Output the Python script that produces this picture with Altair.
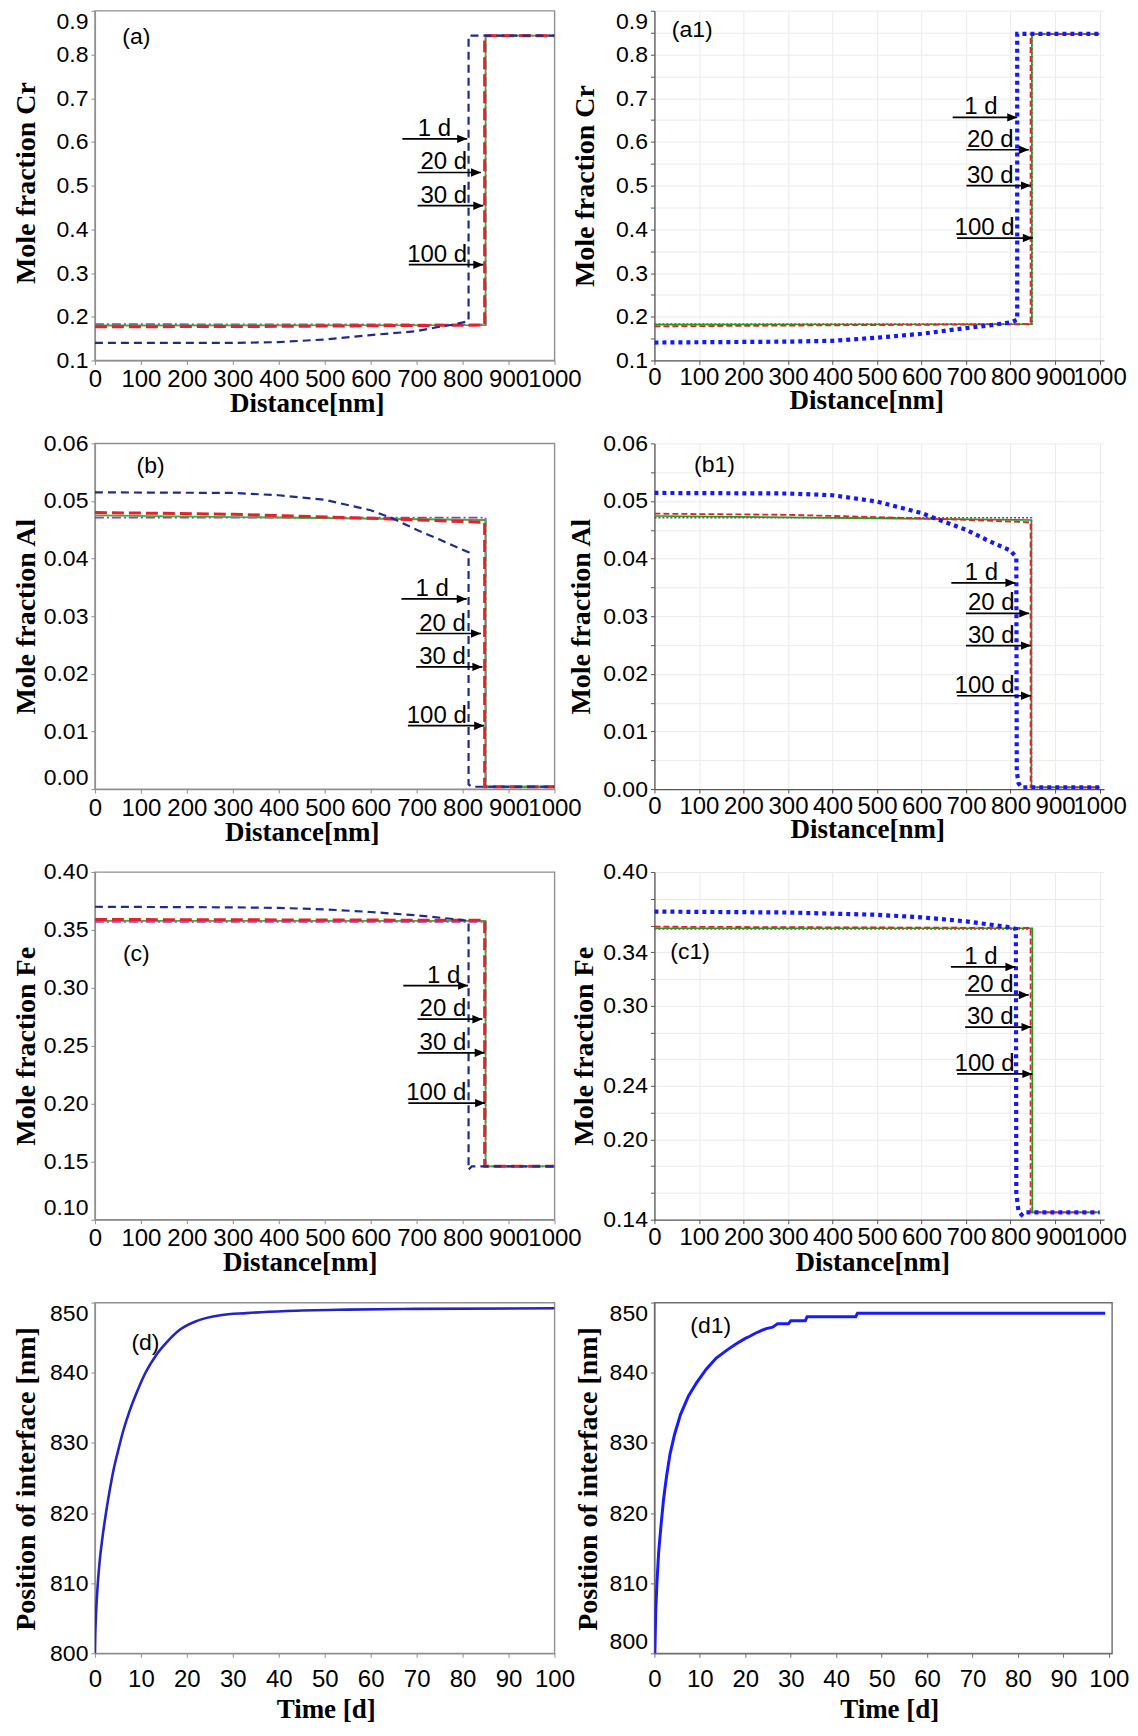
import altair as alt
import pandas as pd

DAYS = ["1 d", "20 d", "30 d", "100 d"]

# ---------------- (a) Mole fraction Cr, left ----------------
CR_L_1D_X = [0, 200, 300, 400, 500, 600, 700, 750, 780, 813, 813, 1000]
CR_L_1D_Y = [0.140, 0.140, 0.140, 0.142, 0.148, 0.158, 0.167, 0.177, 0.182, 0.190, 0.843, 0.843]
CR_L_20D_X = [0, 400, 848, 848, 1000]
CR_L_20D_Y = [0.177, 0.178, 0.181, 0.843, 0.843]
CR_L_30D_X = [0, 850, 850, 1000]
CR_L_30D_Y = [0.180, 0.181, 0.843, 0.843]
CR_L_100D_X = [0, 850, 850, 1000]
CR_L_100D_Y = [0.183, 0.182, 0.843, 0.843]
ARR_A_X1 = [669, 702, 702, 683]
ARR_A_X2 = [810, 840, 845, 845]
ARR_A_Y = [0.607, 0.530, 0.454, 0.319]
ARR_A_TX = [775, 810, 810, 810]

# ---------------- (a1) Mole fraction Cr, right ----------------
CR_R_1D_X = [0, 300, 400, 500, 600, 700, 750, 800, 815, 815, 1000]
CR_R_1D_Y = [0.141, 0.143, 0.145, 0.152, 0.161, 0.174, 0.180, 0.187, 0.193, 0.847, 0.847]
CR_R_20D_X = [0, 845, 845, 1000]
CR_R_20D_Y = [0.178, 0.183, 0.847, 0.847]
CR_R_30D_X = [0, 848, 848, 1000]
CR_R_30D_Y = [0.182, 0.183, 0.847, 0.847]
CR_R_100D_X = [0, 848, 848, 1000]
CR_R_100D_Y = [0.183, 0.183, 0.847, 0.847]
ARR_A1_X1 = [670, 701, 701, 680]
ARR_A1_X2 = [815, 841, 846, 850]
ARR_A1_Y = [0.656, 0.582, 0.500, 0.380]
ARR_A1_TX = [771, 807, 807, 809]

# ---------------- (b) Mole fraction Al, left ----------------
AL_L_1D_X = [0, 300, 400, 500, 600, 650, 700, 750, 813, 813, 820, 1000]
AL_L_1D_Y = [0.0515, 0.0514, 0.0510, 0.0502, 0.0484, 0.0469, 0.0450, 0.0433, 0.0411, 0.0008, 0.0004, 0.0004]
AL_L_20D_X = [0, 300, 600, 848, 848, 1000]
AL_L_20D_Y = [0.0480, 0.0477, 0.0470, 0.0463, 0.0004, 0.0004]
AL_L_30D_X = [0, 850, 850, 1000]
AL_L_30D_Y = [0.0475, 0.0467, 0.0004, 0.0004]
AL_L_100D_X = [0, 850, 850, 1000]
AL_L_100D_Y = [0.0471, 0.0471, 0.0004, 0.0004]
ARR_B_X1 = [667, 699, 699, 681]
ARR_B_X2 = [809, 840, 843, 847]
ARR_B_Y = [0.033, 0.027, 0.0212, 0.011]
ARR_B_TX = [770, 807, 807, 809]

# ---------------- (b1) Mole fraction Al, right ----------------
AL_R_1D_X = [0, 300, 400, 500, 600, 630, 700, 750, 800, 813, 814, 818, 825, 1000]
AL_R_1D_Y = [0.0514, 0.0513, 0.0510, 0.0499, 0.0479, 0.0470, 0.0450, 0.0431, 0.0414, 0.0402, 0.0030, 0.0010, 0.0003, 0.0003]
AL_R_20D_X = [0, 300, 600, 845, 845, 1000]
AL_R_20D_Y = [0.0478, 0.0476, 0.0470, 0.0463, 0.0003, 0.0003]
AL_R_30D_X = [0, 847, 847, 1000]
AL_R_30D_Y = [0.0474, 0.0467, 0.0003, 0.0003]
AL_R_100D_X = [0, 847, 847, 1000]
AL_R_100D_Y = [0.0471, 0.0471, 0.0003, 0.0003]
ARR_B1_X1 = [667, 700, 700, 680]
ARR_B1_X2 = [811, 842, 846, 846]
ARR_B1_Y = [0.0358, 0.0305, 0.0249, 0.0162]
ARR_B1_TX = [772, 809, 809, 809]

# ---------------- (c) Mole fraction Fe, left ----------------
FE_L_1D_X = [0, 300, 400, 500, 600, 700, 800, 813, 813, 820, 1000]
FE_L_1D_Y = [0.370, 0.3695, 0.369, 0.3678, 0.3655, 0.3626, 0.3586, 0.3578, 0.143, 0.146, 0.146]
FE_L_20D_X = [0, 848, 848, 1000]
FE_L_20D_Y = [0.359, 0.3583, 0.146, 0.146]
FE_L_30D_X = [0, 850, 850, 1000]
FE_L_30D_Y = [0.3578, 0.3578, 0.146, 0.146]
FE_L_100D_X = [0, 850, 850, 1000]
FE_L_100D_Y = [0.357, 0.357, 0.146, 0.146]
ARR_C_X1 = [671, 702, 702, 682]
ARR_C_X2 = [812, 843, 848, 849]
ARR_C_Y = [0.302, 0.273, 0.244, 0.2006]
ARR_C_TX = [795, 808, 808, 808]

# ---------------- (c1) Mole fraction Fe, right ----------------
FE_R_1D_X = [0, 300, 500, 600, 700, 800, 812, 813, 818, 825, 830, 1000]
FE_R_1D_Y = [0.3704, 0.3697, 0.368, 0.3661, 0.3631, 0.3586, 0.3574, 0.160, 0.146, 0.1437, 0.1455, 0.1455]
FE_R_20D_X = [0, 845, 845, 1000]
FE_R_20D_Y = [0.3591, 0.3581, 0.1455, 0.1455]
FE_R_30D_X = [0, 849, 849, 1000]
FE_R_30D_Y = [0.3579, 0.3579, 0.1455, 0.1455]
FE_R_100D_X = [0, 849, 849, 1000]
FE_R_100D_Y = [0.3574, 0.3574, 0.1455, 0.1455]
ARR_C1_X1 = [666, 698, 698, 680]
ARR_C1_X2 = [811, 841, 847, 849]
ARR_C1_Y = [0.329, 0.308, 0.284, 0.249]
ARR_C1_TX = [771, 807, 807, 809]

# ---------------- (d) interface position, left ----------------
T_D = [0, 0.07, 0.22, 0.58, 1.0, 1.66, 2.38, 3.1, 4.04, 5.05, 6.2, 7.57, 9.23, 11.0, 13.2,
       15.7, 18.6, 22.2, 27.3, 33.0, 41.7, 55, 70, 100]
P_D = [800, 802.5, 805.3, 809.5, 812.9, 816.6, 819.9, 822.8, 826.1, 828.9, 831.8, 834.6, 837.4, 840.0, 842.4,
       844.4, 846.2, 847.4, 848.2, 848.5, 848.8, 849.0, 849.1, 849.2]

# ---------------- (d1) interface position, right ----------------
T_D1 = [0, 0.29, 0.57, 0.93, 1.43, 2.0, 2.64, 3.43, 4.43, 5.71, 7.5, 9.3, 11.4, 13.6, 16.1, 18.2,
        20.0, 21.0, 22.1, 23.5, 24.6, 26.0, 27.1, 29.5, 30.0, 33.2, 33.6, 44.3, 44.7, 99.2]
P_D1 = [797, 806.0, 810.2, 814.4, 818.1, 821.9, 825.1, 828.4, 831.2, 834.0, 836.7, 838.6, 840.5, 842.1, 843.3, 844.2,
        844.9, 845.2, 845.6, 846.0, 846.3, 846.5, 847.0, 847.0, 847.4, 847.4, 848.0, 848.0, 848.5, 848.5]

DIST_TICKS = [0, 100, 200, 300, 400, 500, 600, 700, 800, 900, 1000]
TIME_TICKS = [0, 10, 20, 30, 40, 50, 60, 70, 80, 90, 100]
POS_TICKS = [800, 810, 820, 830, 840, 850]
CR_TICKS_L = [0.1, 0.2, 0.3, 0.4, 0.5, 0.6, 0.7, 0.8, 0.9]
CR_TICKS_R = [round(0.1 + 0.05 * i, 2) for i in range(17)]
AL_TICKS_L = [0.0, 0.01, 0.02, 0.03, 0.04, 0.05, 0.06]
AL_TICKS_R = [round(0.005 * i, 3) for i in range(13)]
FE_TICKS_L = [0.10, 0.15, 0.20, 0.25, 0.30, 0.35, 0.40]
FE_TICKS_R = [round(0.14 + 0.02 * i, 2) for i in range(14)]

FONT = "Liberation Sans"
SERIF = "Liberation Serif"
HEAD = "M0,0L-1,-0.42L-1,0.42Z"

LEFT_STYLE = {
    "1 d": ("#1f2b8f", 2.2, [8, 5]),
    "20 d": ("#e3222b", 3.0, [12, 5]),
    "30 d": ("#3cae3a", 1.8, None),
    "100 d": ("#9b36c6", 1.8, [9, 3, 2, 3]),
}
RIGHT_STYLE = {
    "1 d": ("#1717ff", 4.2, [4, 4]),
    "20 d": ("#e3222b", 1.8, [6, 3]),
    "30 d": ("#1d9e1d", 1.6, None),
    "100 d": ("#8a2ab4", 1.6, [2, 2]),
}
ORDER = ["100 d", "30 d", "20 d", "1 d"]

LEFT_FRAME = dict(stroke="#8f8f8f", strokeWidth=1.4)
RIGHT_FRAME = dict(stroke="transparent", strokeWidth=0)
D1_FRAME = dict(stroke="#6f6f6f", strokeWidth=1.4)


def x_axis(title, values, tx, ty, pad, grid=False, dom="#8f8f8f"):
    return alt.Axis(title=title, values=values, format="d", grid=grid, gridColor="#ebebeb",
                    labelFont=FONT, labelFontSize=24, labelColor="black", labelPadding=pad,
                    labelOverlap=False, labelFlush=False,
                    tickSize=4, tickColor=dom, domainColor=dom, domainWidth=1.3,
                    titleFont=SERIF, titleFontSize=27, titleFontWeight="bold", titleColor="black",
                    titleX=tx, titleY=ty, titleBaseline="alphabetic")


def y_axis(title, values, fmt, tx, ty, grid=False, dom="#8f8f8f", expr=None, cond=None, flush=False):
    kw = dict(title=title, values=values, format=fmt, grid=grid, gridColor="#ebebeb",
              labelFont=FONT, labelFontSize=23, labelColor="black", labelPadding=3,
              labelOverlap=False, labelFlush=flush,
              tickSize=4, tickColor=dom, domainColor=dom, domainWidth=1.3,
              titleFont=SERIF, titleFontSize=28, titleFontWeight="bold", titleColor="black",
              titleX=tx, titleY=ty, titleBaseline="alphabetic")
    if expr:
        kw["labelExpr"] = expr
    if cond:
        kw["labelBaseline"] = {"condition": {"test": cond[0], "value": cond[1]}, "value": "middle"}
    return alt.Axis(**kw)


def panel(curves, style, arrows, label, xdom, ydom, xaxis, yaxis, w, h, frame, interp="linear"):
    xs = alt.Scale(domain=xdom, nice=False, zero=False)
    ys = alt.Scale(domain=ydom, nice=False, zero=False)

    def X(f):
        return alt.X(f + ":Q", scale=xs, axis=xaxis)

    def Y(f):
        return alt.Y(f + ":Q", scale=ys, axis=yaxis)

    layers = []
    for name in ORDER:
        if name not in curves:
            continue
        xv, yv = curves[name]
        color, sw, dash = style[name]
        df = pd.DataFrame({"x": xv, "y": yv, "i": list(range(len(xv)))})
        kw = dict(color=color, strokeWidth=sw, clip=True, interpolate=interp)
        if dash:
            kw["strokeDash"] = dash
        layers.append(alt.Chart(df).mark_line(**kw).encode(x=X("x"), y=Y("y"), order="i:Q"))
    if arrows:
        x1, x2, yy, tx = arrows
        adf = pd.DataFrame({"x1": x1, "x2": x2, "y": yy, "tx": tx, "label": DAYS})
        layers.append(alt.Chart(adf).mark_rule(color="black", strokeWidth=1.7)
                      .encode(x=X("x1"), x2="x2:Q", y=Y("y")))
        layers.append(alt.Chart(adf).mark_point(shape=HEAD, filled=True, color="black", opacity=1, size=400)
                      .encode(x=X("x2"), y=Y("y")))
        layers.append(alt.Chart(adf).mark_text(align="right", baseline="alphabetic", dy=-3, font=FONT,
                                               fontSize=24, color="black")
                      .encode(x=X("tx"), y=Y("y"), text="label:N"))
    ldf = pd.DataFrame({"x": [label[1]], "y": [label[2]], "t": [label[0]]})
    layers.append(alt.Chart(ldf).mark_text(font=FONT, fontSize=23, color="black")
                  .encode(x=X("x"), y=Y("y"), text="t:N"))
    return alt.layer(*layers).properties(width=w, height=h, view=alt.ViewBackground(**frame))


R_DOM = "#555555"
LW = 460

pa = panel({"1 d": (CR_L_1D_X, CR_L_1D_Y), "20 d": (CR_L_20D_X, CR_L_20D_Y),
            "30 d": (CR_L_30D_X, CR_L_30D_Y), "100 d": (CR_L_100D_X, CR_L_100D_Y)},
           LEFT_STYLE, (ARR_A_X1, ARR_A_X2, ARR_A_Y, ARR_A_TX), ("(a)", 90, 0.84),
           [0, 1000], [0.1, 0.9],
           x_axis("Distance[nm]", DIST_TICKS, 212, 51, 3),
           y_axis("Mole fraction Cr", CR_TICKS_L, ".1f", -60, 172, cond=("datum.index == 1", "top")),
           LW, 350, LEFT_FRAME)

pa1 = panel({"1 d": (CR_R_1D_X, CR_R_1D_Y), "20 d": (CR_R_20D_X, CR_R_20D_Y),
             "30 d": (CR_R_30D_X, CR_R_30D_Y), "100 d": (CR_R_100D_X, CR_R_100D_Y)},
            RIGHT_STYLE, (ARR_A1_X1, ARR_A1_X2, ARR_A1_Y, ARR_A1_TX), ("(a1)", 85, 0.856),
            [0, 1010], [0.1, 0.9],
            x_axis("Distance[nm]", DIST_TICKS, 212, 48, 1, grid=True, dom=R_DOM),
            y_axis("Mole fraction Cr", CR_TICKS_R, ".2f", -61, 175, grid=True, dom=R_DOM,
                   expr="round(datum.value*100) % 10 == 0 ? format(datum.value, '.1f') : ''",
                   cond=("datum.index == 1", "top")),
            450, 350, RIGHT_FRAME)

pb = panel({"1 d": (AL_L_1D_X, AL_L_1D_Y), "20 d": (AL_L_20D_X, AL_L_20D_Y),
            "30 d": (AL_L_30D_X, AL_L_30D_Y), "100 d": (AL_L_100D_X, AL_L_100D_Y)},
           LEFT_STYLE, (ARR_B_X1, ARR_B_X2, ARR_B_Y, ARR_B_TX), ("(b)", 121, 0.056),
           [0, 1000], [0, 0.06],
           x_axis("Distance[nm]", DIST_TICKS, 207, 51, 3),
           y_axis("Mole fraction Al", AL_TICKS_L, ".2f", -60, 173, cond=("datum.index == 0", "bottom")),
           LW, 346, LEFT_FRAME)

pb1 = panel({"1 d": (AL_R_1D_X, AL_R_1D_Y), "20 d": (AL_R_20D_X, AL_R_20D_Y),
             "30 d": (AL_R_30D_X, AL_R_30D_Y), "100 d": (AL_R_100D_X, AL_R_100D_Y)},
            RIGHT_STYLE, (ARR_B1_X1, ARR_B1_X2, ARR_B1_Y, ARR_B1_TX), ("(b1)", 135, 0.0562),
            [0, 1010], [0, 0.06],
            x_axis("Distance[nm]", DIST_TICKS, 213, 48, 1, grid=True, dom=R_DOM),
            y_axis("Mole fraction Al", AL_TICKS_R, ".3f", -65, 173, grid=True, dom=R_DOM,
                   expr="round(datum.value*1000) % 10 == 0 ? format(datum.value, '.2f') : ''"),
            450, 346, RIGHT_FRAME)

pc = panel({"1 d": (FE_L_1D_X, FE_L_1D_Y), "20 d": (FE_L_20D_X, FE_L_20D_Y),
            "30 d": (FE_L_30D_X, FE_L_30D_Y), "100 d": (FE_L_100D_X, FE_L_100D_Y)},
           LEFT_STYLE, (ARR_C_X1, ARR_C_X2, ARR_C_Y, ARR_C_TX), ("(c)", 90, 0.329),
           [0, 1000], [0.1, 0.4],
           x_axis("Distance[nm]", DIST_TICKS, 205, 51, 3),
           y_axis("Mole fraction Fe", FE_TICKS_L, ".2f", -60, 174, cond=("datum.index == 0", "bottom")),
           LW, 348, LEFT_FRAME)

pc1 = panel({"1 d": (FE_R_1D_X, FE_R_1D_Y), "20 d": (FE_R_20D_X, FE_R_20D_Y),
             "30 d": (FE_R_30D_X, FE_R_30D_Y), "100 d": (FE_R_100D_X, FE_R_100D_Y)},
            RIGHT_STYLE, (ARR_C1_X1, ARR_C1_X2, ARR_C1_Y, ARR_C1_TX), ("(c1)", 80, 0.340),
            [0, 1010], [0.14, 0.40],
            x_axis("Distance[nm]", DIST_TICKS, 218, 51, 2, grid=True, dom=R_DOM),
            y_axis("Mole fraction Fe", FE_TICKS_R, ".2f", -62, 174, grid=True, dom=R_DOM,
                   expr="indexof([14,20,24,30,34,40], round(datum.value*100)) >= 0 ? format(datum.value, '.2f') : ''"),
            450, 348, RIGHT_FRAME)

pd_ = panel({"1 d": (T_D, P_D)}, {"1 d": ("#2424c4", 2.6, None)}, None, ("(d)", 11, 844.3),
            [0, 100], [800, 850],
            x_axis("Time [d]", TIME_TICKS, 231, 64, 10),
            y_axis("Position of interface [nm]", POS_TICKS, "d", -60, 176, cond=("datum.index == 1", "top")),
            LW, 351, LEFT_FRAME, interp="monotone")

pd1 = panel({"1 d": (T_D1, P_D1)}, {"1 d": ("#1a1aff", 3.0, None)}, None, ("(d1)", 12.4, 846.6),
            [0, 100.7], [800, 850],
            x_axis("Time [d]", TIME_TICKS, 235, 64, 10, dom="#6f6f6f"),
            y_axis("Position of interface [nm]", POS_TICKS, "d", -58, 176, dom="#6f6f6f", flush=True),
            458, 351, D1_FRAME)

chart = alt.concat(pa, pa1, pb, pb1, pc, pc1, pd_, pd1, columns=2,
                   spacing={"row": 83, "column": 100}, bounds="flush", align="each").properties(
    padding={"left": 4, "top": 0, "right": 0, "bottom": 0}, background="white")

chart.save("out.html", embed_options={"renderer": "svg", "actions": False})
